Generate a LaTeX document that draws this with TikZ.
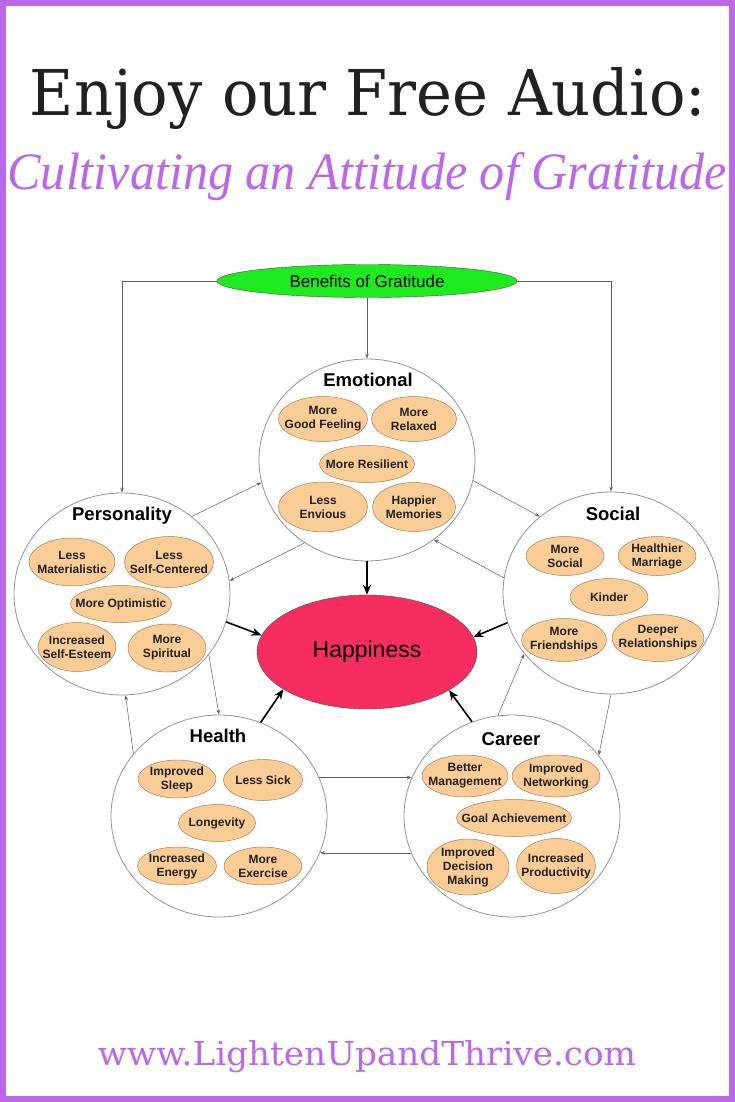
\documentclass[tikz,border=0pt]{standalone}
\usepackage{fontspec}
\setmainfont{Liberation Sans}
\newfontfamily\slabfont{DejaVu Serif}
\newfontfamily\handfont{Liberation Serif}
\usetikzlibrary{shapes.geometric, arrows.meta}
\definecolor{lilac}{RGB}{186,104,232}
\definecolor{peach}{RGB}{250,204,150}
\definecolor{rim}{gray}{0.58}
\definecolor{joy}{RGB}{245,45,95}
\definecolor{leaf}{RGB}{30,235,30}
\definecolor{ink}{gray}{0.13}

\begin{document}
\begin{tikzpicture}[
  x=1pt, y=-1pt,
  area/.style={ellipse, draw=rim, line width=.8pt, fill=white,
               minimum width=216pt, minimum height=202pt, inner sep=0pt},
  head/.style={font=\bfseries\fontsize{18.5}{20}\selectfont, text=black},
  perk/.style={ellipse, draw=brown!55!gray, line width=.5pt, fill=peach,
               inner sep=-14pt, align=center, text=ink,
               font=\bfseries\fontsize{12}{14}\selectfont},
  ar/.style={-{Stealth[length=5pt,width=3.5pt]}, draw=gray!75!black, line width=.5pt},
  big/.style={-{Stealth[length=10pt,width=8pt]}, draw=black, line width=1.6pt},
]
\useasboundingbox (0,0) rectangle (735,1102);
\draw[lilac, line width=6pt] (3,3) rectangle (732,1099);

% headings
\node[anchor=base, inner sep=0pt, text=ink] (ttl) at (368,116)
  {\resizebox{676pt}{48pt}{\slabfont Enjoy our Free Audio:}};
\node[anchor=base, inner sep=0pt, text=lilac] (sub) at (367,190)
  {\resizebox{719pt}{37pt}{\handfont\itshape Cultivating an Attitude of Gratitude}};
\node[anchor=base, inner sep=0pt, text=lilac] (url) at (367,1065)
  {\resizebox{538pt}{25pt}{\slabfont www.LightenUpandThrive.com}};

% main nodes
\node[ellipse, draw=gray!60!black, fill=leaf, minimum width=300pt, minimum height=33pt,
      inner sep=0pt, font=\fontsize{17}{19}\selectfont] (ben) at (367,281) {Benefits of Gratitude};
\node[area] (emo)  at (367,460) {};
\node[area] (pers) at (122,594) {};
\node[area] (soc)  at (611,593) {};
\node[area] (hea)  at (219,816) {};
\node[area] (car)  at (512,816) {};
\node[ellipse, draw=gray!60!black, fill=joy, minimum width=220pt, minimum height=114pt,
      inner sep=0pt, font=\fontsize{23}{25}\selectfont] (hap) at (367,652) {Happiness};

% emotional
\node[head] (emot) at (368,380) {Emotional};
\node[perk, minimum width=89pt, minimum height=45pt] (goodf) at (323,419) {More\\Good Feeling};
\node[perk, minimum width=85pt, minimum height=45pt] (relax) at (414,419) {More\\Relaxed};
\node[perk, minimum width=95pt, minimum height=37pt] (resil) at (367,464) {More Resilient};
\node[perk, minimum width=89pt, minimum height=50pt] (envy)  at (323,507) {Less\\Envious};
\node[perk, minimum width=83pt, minimum height=49pt] (memo)  at (414,507) {Happier\\Memories};

% personality
\node[head] (perst) at (122,516) {Personality};
\node[perk, minimum width=86pt, minimum height=48pt] (mater) at (72,562)  {Less\\Materialistic};
\node[perk, minimum width=89pt, minimum height=51pt] (selfc) at (169,562) {Less\\Self-Centered};
\node[perk, minimum width=101pt, minimum height=37pt] (optim) at (121,604) {More Optimistic};
\node[perk, minimum width=78pt, minimum height=49pt] (estee) at (77,647)  {Increased\\Self-Esteem};
\node[perk, minimum width=78pt, minimum height=48pt] (spiri) at (167,648) {More\\Spiritual};

% social
\node[head] (soct) at (613,514) {Social};
\node[perk, minimum width=78pt, minimum height=39pt] (msoc)  at (565,556) {More\\Social};
\node[perk, minimum width=78pt, minimum height=39pt] (marr)  at (657,556) {Healthier\\Marriage};
\node[perk, minimum width=78pt, minimum height=37pt] (kind)  at (609,597) {Kinder};
\node[perk, minimum width=85pt, minimum height=43pt] (frie)  at (564,640) {More\\Friendships};
\node[perk, minimum width=92pt, minimum height=47pt] (deep)  at (658,638) {Deeper\\Relationships};

% health
\node[head] (heat) at (218,736) {Health};
\node[perk, minimum width=78pt, minimum height=38pt] (sleep) at (177,779) {Improved\\Sleep};
\node[perk, minimum width=79pt, minimum height=41pt] (sick)  at (263,780) {Less Sick};
\node[perk, minimum width=77pt, minimum height=37pt] (longv) at (217,823) {Longevity};
\node[perk, minimum width=79pt, minimum height=38pt] (energ) at (177,866) {Increased\\Energy};
\node[perk, minimum width=78pt, minimum height=38pt] (exer)  at (263,866) {More\\Exercise};

% career
\node[head] (cart) at (511,739) {Career};
\node[perk, minimum width=86pt, minimum height=42pt] (mgmt)  at (465,776) {Better\\Management};
\node[perk, minimum width=88pt, minimum height=42pt] (netw)  at (556,776) {Improved\\Networking};
\node[perk, minimum width=115pt, minimum height=37pt] (goal) at (514,818) {Goal Achievement};
\node[perk, minimum width=82pt, minimum height=56pt] (decis) at (468,867) {Improved\\Decision\\Making};
\node[perk, minimum width=79pt, minimum height=55pt] (prod)  at (556,866) {Increased\\Productivity};

% thin links
\draw[ar] (ben.south) -- (emo.north);
\draw[ar] (ben.west) -| (pers.north);
\draw[ar] (ben.east) -| (soc.north);
\draw[ar] (pers.48) -- (emo.192);
\draw[ar] (emo.233) -- (pers.7);
\draw[ar] (emo.-11) -- (soc.133);
\draw[ar] (soc.172) -- (emo.-50);
\draw[ar] (pers.-35) -- (hea.north);
\draw[ar] (hea.144) -- (pers.-88);
\draw[ar] (hea.21) -- (car.159);
\draw[ar] (car.200) -- (hea.-20);
\draw[ar] (car.98) -- (soc.215);
\draw[ar] (soc.south) -- (car.35);

% into happiness
\draw[big] (emo.south) -- (hap.north);
\draw[big] (pers.-15) -- (hap.171);
\draw[big] (soc.196) -- (hap.8);
\draw[big] (hea.66) -- (hap.204);
\draw[big] (car.113) -- (hap.335);
\end{tikzpicture}
\end{document}
